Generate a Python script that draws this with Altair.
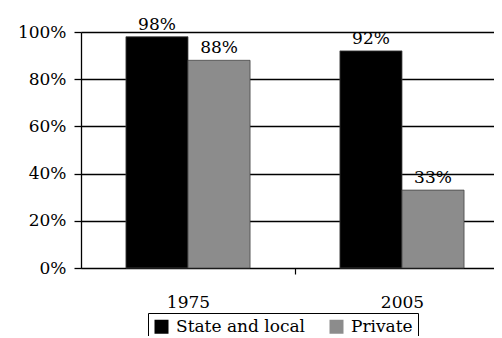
import altair as alt
import pandas as pd

years = ["1975", "2005"]
sectors = ["State and local", "Private"]
state_local = [98, 92]
private = [88, 33]
y_ticks = [0, 20, 40, 60, 80, 100]

rows = []
for i, yr in enumerate(years):
    rows.append({"year": yr, "sector": sectors[0], "value": state_local[i], "label": f"{state_local[i]}%"})
    rows.append({"year": yr, "sector": sectors[1], "value": private[i], "label": f"{private[i]}%"})
df = pd.DataFrame(rows)

FONT = "DejaVu Serif"

x = alt.X("year:N", title=None, sort=years,
          scale=alt.Scale(paddingInner=0.42, paddingOuter=0.175, align=0.6),
          axis=alt.Axis(labelAngle=0, labelFont=FONT, labelFontSize=17, labelColor="black",
                        tickSize=6, tickColor="black", tickWidth=1.2,
                        tickOffset=107, labelOffset=-107,
                        labelPadding=20, domain=True, domainColor="black", domainWidth=1.2))
xo = alt.XOffset("sector:N", sort=sectors, scale=alt.Scale(paddingInner=0, paddingOuter=0))
y = alt.Y("value:Q", title=None,
          scale=alt.Scale(domain=[0, 100], nice=False),
          axis=alt.Axis(values=y_ticks, labelExpr="datum.value + '%'", labelFont=FONT,
                        labelFontSize=17, labelColor="black", labelPadding=8,
                        tickSize=7, tickColor="black", tickWidth=1.3,
                        domainColor="black", domainWidth=1.3,
                        grid=True, gridColor="black", gridWidth=1.3, gridOpacity=1))

color = alt.Color("sector:N", sort=sectors,
                  scale=alt.Scale(domain=sectors, range=["#000000", "#8c8c8c"]),
                  legend=alt.Legend(title=None, orient="none", legendX=67, legendY=281,
                                    direction="horizontal", symbolType="square", symbolSize=196,
                                    symbolStrokeWidth=0, labelFont=FONT, labelFontSize=17,
                                    labelColor="black", labelOffset=6, columnPadding=22,
                                    padding=5, strokeColor="black", fillColor="white"))

bars = alt.Chart(df).mark_bar(stroke="#444444", strokeWidth=0.8).encode(
    x=x, xOffset=xo, y=y, color=color)

text = alt.Chart(df).mark_text(font=FONT, fontSize=17, color="black", baseline="alphabetic", dy=-7).encode(
    x=alt.X("year:N", sort=years), xOffset=alt.XOffset("sector:N", sort=sectors),
    y="value:Q", text="label:N")

chart = alt.layer(bars, text).properties(
    width=413, height=236,
    autosize=alt.AutoSizeParams(type="none"),
    padding={"left": 73, "right": 0, "top": 24, "bottom": 68},
).configure_view(stroke=None).configure(background="white", font=FONT).configure_legend(
    labelFont=FONT, labelFontSize=17, labelColor="black")

chart.save("out.html", embed_options={"renderer": "svg", "actions": False})
